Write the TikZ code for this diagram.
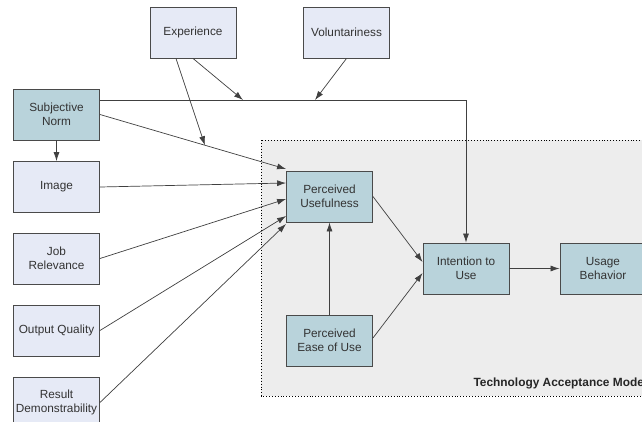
\documentclass[tikz,border=0pt]{standalone}
\usepackage{fontspec}
\setmainfont{Liberation Sans}
\usepackage{tikz}
\usetikzlibrary{arrows.meta, calc, positioning}

\definecolor{lightbox}{HTML}{E6EAF6}
\definecolor{tealbox}{HTML}{B9D3DB}
\definecolor{regionfill}{HTML}{EDEDED}
\definecolor{edgegray}{HTML}{4A4A4A}

\begin{document}
\begin{tikzpicture}[x=1pt, y=-1pt,
  factor/.style={draw=edgegray, fill=lightbox, line width=0.9pt, minimum width=\boxW pt, minimum height=\boxH pt, align=center, inner sep=2pt, font=\fontsize{11.8}{14}\selectfont, text=black!80},
  tam/.style={factor, fill=tealbox},
  link/.style={->, >={Latex[length=9pt,width=6pt]}, draw=black!75, line width=0.7pt}]
% Box size (pixels of the page)
\pgfmathsetmacro{\boxW}{86}
\pgfmathsetmacro{\boxH}{51}
\clip (0,0) rectangle (642,421);
\fill[white] (0,0) rectangle (642,421);

% TAM region
\draw[dotted, line width=0.9pt, fill=regionfill] (261,140) rectangle (660,396);
\node[anchor=west, font=\bfseries\fontsize{11.9}{14}\selectfont, text=black!85] (tamlabel) at (470,383) {Technology Acceptance Model};

% External factors
\node[factor] (exp) at (193,32.5) {Experience};
\node[factor] (vol) at (346.5,32.5) {Voluntariness};
\node[tam] (sn) at (56.5,114.5) {Subjective\\Norm};
\node[factor] (img) at (56.5,187) {Image};
\node[factor] (job) at (56.5,258.5) {Job\\Relevance};
\node[factor] (out) at (56.5,330.5) {Output Quality};
\node[factor] (res) at (56.5,402.5) {Result\\Demonstrability};

% TAM core
\node[tam] (pu) at (329.5,196.5) {Perceived\\Usefulness};
\node[tam] (peou) at (329.5,340.5) {Perceived\\Ease of Use};
\node[tam] (iu) at (466,268.5) {Intention to\\Use};
\node[tam] (ub) at (603,268.5) {Usage\\Behavior};

% Subjective norm to intention
\coordinate (snout) at ([yshift=14.5pt]sn.east);
\draw[link] (snout) -| (iu.north);
\coordinate (expjoin) at (243,100);
\coordinate (voljoin) at (315,100);
\draw[link] (exp.south) -- (expjoin);
\draw[link] (vol.south) -- (voljoin);

% Factors to perceived usefulness
\foreach \src/\dy in {sn/27.5, img/13.5, job/-2.5, out/-19.5, res/-27.5}
  \draw[link] (\src.east) -- ([yshift=\dy pt]pu.west);
\coordinate (putop) at ([yshift=27.5pt]pu.west);
\coordinate (snjoin) at ($(sn.east)!0.564!(putop)$);
\draw[link] ([xshift=-17pt]exp.south) -- (snjoin);
\draw[link] (sn.south) -- (img.north);

% Core links
\draw[link] (peou.north) -- (pu.south);
\draw[link] (pu.east) -- ([yshift=6.5pt]iu.west);
\draw[link] ([yshift=2.5pt]peou.east) -- ([yshift=-4.5pt]iu.west);
\draw[link] (iu.east) -- (ub.west);

\end{tikzpicture}
\end{document}
